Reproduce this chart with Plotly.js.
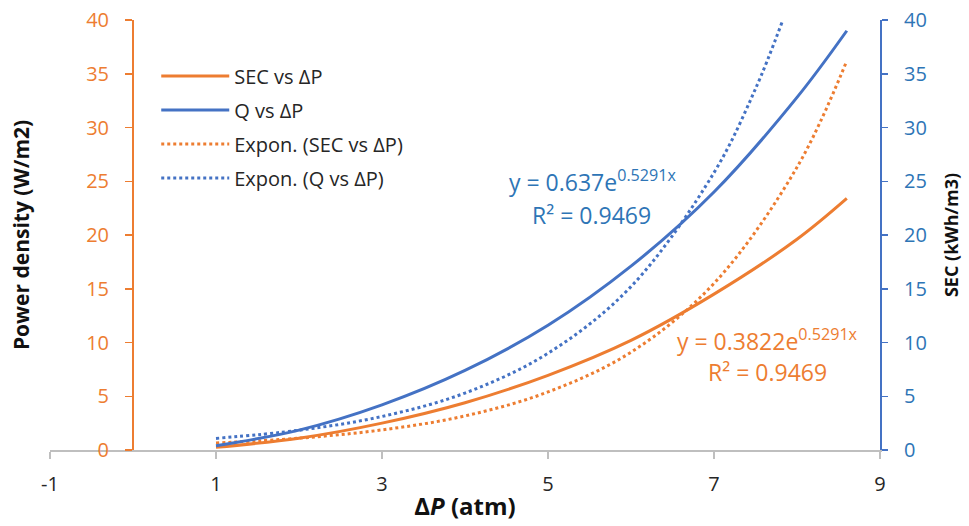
<!DOCTYPE html>
<html>
<head>
<meta charset="utf-8">
<script src="https://cdn.plot.ly/plotly-3.0.1.min.js"></script>
<style>html,body{margin:0;padding:0;background:#fff;}#chart{width:969px;height:526px;}</style>
</head>
<body>
<div id="chart"></div>
<script>
// ΔP (atm) sample points
const dP = [1, 2, 3, 4, 5, 6, 7, 8, 8.6];
// SEC vs ΔP (orange, solid)
const secValues = [0.25, 1.1, 2.5, 4.4, 6.95, 10.2, 14.5, 19.6, 23.4];
// Q vs ΔP (blue, solid)
const qValues = [0.4, 1.85, 4.2, 7.4, 11.6, 17.1, 24.0, 32.8, 39.0];
// Exponential trendline read-outs
const secTrendX = [1, 2, 3, 4, 5, 6, 7, 8, 8.6];
const secTrendY = [0.65, 1.1, 1.87, 3.17, 5.4, 9.1, 15.5, 26.3, 36.2];
const qTrendX = [1, 2, 3, 4, 5, 6, 7, 7.5, 7.82];
const qTrendY = [1.08, 1.84, 3.12, 5.3, 9.0, 15.2, 25.8, 33.6, 39.8];
// Labels
const seriesNames = ["SEC vs ΔP", "Q vs ΔP", "Expon. (SEC vs ΔP)", "Expon. (Q vs ΔP)"];
const xTicks = [-1, 1, 3, 5, 7, 9];
const xTickText = ["-1", "1", "3", "5", "7", "9"];
const yTicks = [0, 5, 10, 15, 20, 25, 30, 35, 40];
const eqSec = ["y = 0.3822e<sup>0.5291x</sup>", "R² = 0.9469"];
const eqQ = ["y = 0.637e<sup>0.5291x</sup>", "R² = 0.9469"];

const ORANGE = "#ED7D31";
const BLUE = "#4472C4";
const BLUE_TXT = "#2E75B6";
const FONT = "Open Sans, sans-serif";

const traces = [
  {x: dP, y: secValues, name: seriesNames[0], mode: "lines", yaxis: "y",
   line: {color: ORANGE, width: 3, shape: "spline"}, legendgroup: "a"},
  {x: dP, y: qValues, name: seriesNames[1], mode: "lines", yaxis: "y2",
   line: {color: BLUE, width: 3, shape: "spline"}, legendgroup: "b"},
  {x: secTrendX, y: secTrendY, name: seriesNames[2], mode: "lines", yaxis: "y",
   line: {color: ORANGE, width: 3, dash: "dot", shape: "spline"}, legendgroup: "c"},
  {x: qTrendX, y: qTrendY, name: seriesNames[3], mode: "lines", yaxis: "y2",
   line: {color: BLUE, width: 3, dash: "dot", shape: "spline"}, legendgroup: "d"}
];

const layout = {
  width: 969, height: 526,
  margin: {l: 50, r: 89, t: 20, b: 76},
  paper_bgcolor: "#fff", plot_bgcolor: "#fff",
  font: {family: FONT, size: 20, color: "#262626"},
  showlegend: true,
  legend: {x: 0.128, y: 0.915, xanchor: "left", yanchor: "top",
    bgcolor: "rgba(0,0,0,0)", font: {size: 20, color: "#262626"},
    itemwidth: 68, traceorder: "grouped", tracegroupgap: 5},
  xaxis: {
    range: [-1, 9], tickvals: xTicks, ticktext: xTickText, showgrid: false, zeroline: false,
    showline: true, linecolor: "#BFBFBF", linewidth: 1.5,
    ticks: "outside", ticklen: 7, tickcolor: "#BFBFBF", tickwidth: 1.5,
    tickfont: {size: 20, color: "#262626"}, ticklabelstandoff: 8,
    title: {text: "<b>Δ<i>P</i> (atm)</b>", font: {size: 24, color: "#111"}, standoff: 2}
  },
  yaxis: {
    range: [0, 40], tickvals: yTicks, anchor: "free", position: 0.1,
    showgrid: false, zeroline: false, showline: true, linecolor: ORANGE, linewidth: 2,
    ticks: "outside", ticklen: 7, tickcolor: ORANGE, tickwidth: 1.5,
    tickfont: {size: 20, color: ORANGE}, ticklabelstandoff: 12,
    title: {text: "<b>Power density (W/m2)</b>", font: {size: 21, color: "#111"}, standoff: 50}
  },
  yaxis2: {
    range: [0, 40], tickvals: yTicks, overlaying: "y", side: "right", anchor: "x",
    showgrid: false, zeroline: false, showline: true, linecolor: BLUE, linewidth: 2,
    ticks: "outside", ticklen: 6, tickcolor: BLUE, tickwidth: 1.5,
    tickfont: {size: 20, color: BLUE_TXT}, ticklabelstandoff: 12,
    title: {text: "<b>SEC (kWh/m3)</b>", font: {size: 18, color: "#111"}, standoff: 20}
  },
  annotations: [
    {xref: "x", yref: "y", x: 5.54, y: 25.0, text: eqQ[0], showarrow: false,
     font: {size: 23, color: BLUE_TXT}},
    {xref: "x", yref: "y", x: 5.53, y: 21.9, text: eqQ[1], showarrow: false,
     font: {size: 23, color: BLUE_TXT}},
    {xref: "x", yref: "y", x: 7.65, y: 10.2, text: eqSec[0], showarrow: false,
     font: {size: 23, color: ORANGE}},
    {xref: "x", yref: "y", x: 7.65, y: 7.25, text: eqSec[1], showarrow: false,
     font: {size: 23, color: ORANGE}}
  ]
};

Plotly.newPlot("chart", traces, layout, {displayModeBar: false, staticPlot: true});
</script>
</body>
</html>
